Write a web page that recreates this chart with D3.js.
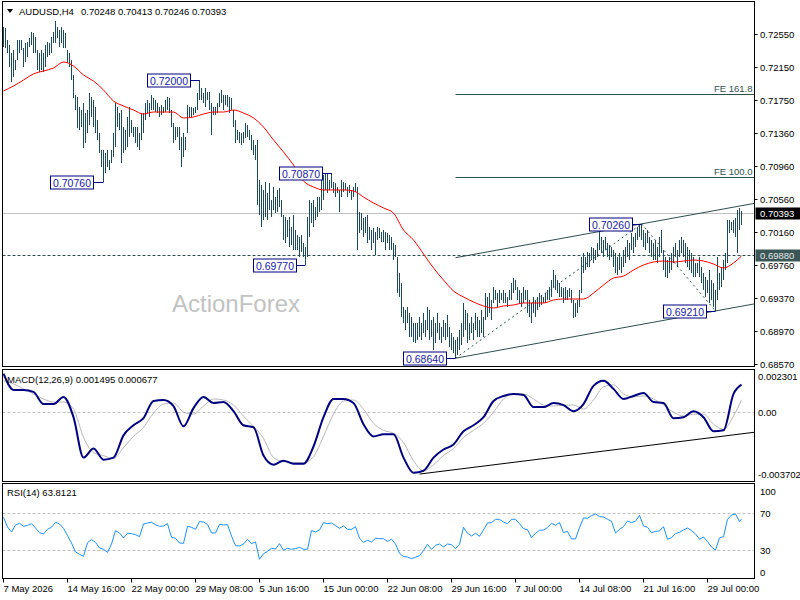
<!DOCTYPE html>
<html><head><meta charset="utf-8">
<script src="https://cdn.jsdelivr.net/npm/d3@7"></script>
<style>
html,body{margin:0;padding:0;background:#fff;}
svg{display:block;}
</style></head><body>
<svg id="c" width="800" height="600"></svg>
<script>
// ---------------- DATA ----------------
const symbol = "AUDUSD,H4";
const lastOHLC = ["0.70248", "0.70413", "0.70246", "0.70393"];
const lastClose = 0.70393;
const supportLevel = 0.69880;

const highs = [
.7263,.7262,.7248,.7242,.7232,.7236,.7224,.7248,.7248,.7248,
.7238,.7244,.7245,.7250,.7257,.7256,.7251,.7236,.7232,.7236,
.7232,.7242,.7245,.7244,.7251,.7257,.7271,.7263,.7260,.7263,
.7260,.7256,.7236,.7232,.7224,.7206,.7181,.7179,.7167,.7163,
.7172,.7160,.7163,.7184,.7179,.7175,.7167,.7151,.7136,.7115,
.7115,.7111,.7115,.7103,.7115,.7136,.7172,.7167,.7160,.7163,
.7143,.7139,.7155,.7167,.7151,.7143,.7143,.7143,.7136,.7160,
.7160,.7172,.7175,.7172,.7181,.7178,.7175,.7172,.7167,.7169,
.7167,.7175,.7179,.7178,.7163,.7148,.7143,.7143,.7143,.7131,
.7136,.7131,.7169,.7167,.7167,.7166,.7167,.7184,.7200,.7190,
.7184,.7190,.7185,.7185,.7172,.7167,.7167,.7172,.7184,.7187,
.7181,.7181,.7181,.7179,.7178,.7163,.7151,.7139,.7137,.7136,
.7137,.7148,.7145,.7139,.7133,.7127,.7121,.7127,.7079,.7073,
.7067,.7077,.7063,.7075,.7055,.7071,.7058,.7067,.7069,.7055,
.7037,.7034,.7031,.7034,.7022,.7037,.7019,.7013,.7010,.7013,
.7003,.6998,.7034,.7055,.7051,.7055,.7046,.7058,.7058,.7085,
.7085,.7086,.7086,.7079,.7087,.7076,.7075,.7071,.7067,.7079,
.7076,.7075,.7071,.7073,.7067,.7071,.7075,.7071,.7040,.7039,
.7033,.7034,.7037,.7022,.7019,.7021,.7016,.7022,.7021,.7016,
.7019,.7016,.7015,.7013,.7010,.7003,.7001,.6986,.6967,.6955,
.6926,.6922,.6926,.6919,.6914,.6906,.6906,.6906,.6914,.6906,
.6919,.6910,.6926,.6922,.6910,.6914,.6906,.6919,.6906,.6902,
.6910,.6906,.6916,.6902,.6894,.6890,.6886,.6890,.6898,.6906,
.6931,.6922,.6919,.6906,.6914,.6906,.6919,.6914,.6910,.6922,
.6914,.6943,.6938,.6943,.6934,.6950,.6946,.6943,.6946,.6943,
.6946,.6943,.6938,.6946,.6955,.6961,.6958,.6950,.6946,.6943,
.6950,.6946,.6946,.6934,.6931,.6938,.6934,.6938,.6943,.6940,
.6938,.6943,.6946,.6950,.6958,.6970,.6964,.6958,.6955,.6950,
.6949,.6950,.6946,.6949,.6946,.6934,.6931,.6934,.6946,.6986,
.6991,.6986,.6992,.6991,.6998,.6997,.6995,.7003,.7019,.7010,
.7007,.7010,.7003,.7001,.6998,.6995,.6991,.6986,.6991,.6986,
.6995,.6998,.7007,.7003,.7015,.7010,.7015,.7022,.7025,.7026,
.7019,.7015,.7019,.7010,.7007,.7003,.7007,.6998,.7010,.7019,
.6995,.6986,.6982,.6986,.6991,.6998,.7003,.6995,.7007,.7010,
.7007,.7003,.6998,.6995,.6991,.6986,.6979,.6979,.6986,.6974,
.6967,.6962,.6958,.6970,.6958,.6955,.6946,.6986,.6967,.6974,
.6982,.6991,.7031,.7031,.7028,.7031,.7033,.7043,.7045,.70413
];
const lows = [
.7239,.7238,.7232,.7215,.7197,.7203,.7212,.7224,.7232,.7236,
.7215,.7221,.7227,.7239,.7242,.7232,.7232,.7212,.7209,.7212,
.7209,.7215,.7227,.7230,.7232,.7244,.7244,.7250,.7239,.7244,
.7238,.7238,.7220,.7215,.7199,.7178,.7163,.7142,.7139,.7143,
.7118,.7124,.7136,.7145,.7155,.7143,.7136,.7127,.7111,.7095,
.7076,.7087,.7095,.7091,.7099,.7107,.7119,.7143,.7139,.7099,
.7111,.7115,.7119,.7131,.7136,.7131,.7124,.7119,.7115,.7127,
.7136,.7151,.7160,.7155,.7163,.7163,.7161,.7160,.7155,.7157,
.7160,.7161,.7163,.7160,.7143,.7124,.7127,.7131,.7115,.7095,
.7107,.7115,.7136,.7155,.7155,.7157,.7160,.7163,.7175,.7175,
.7172,.7167,.7175,.7163,.7133,.7157,.7157,.7160,.7167,.7172,
.7163,.7169,.7167,.7160,.7163,.7143,.7124,.7127,.7124,.7121,
.7124,.7130,.7131,.7127,.7115,.7109,.7103,.7049,.7037,.7022,
.7031,.7034,.7031,.7043,.7034,.7043,.7039,.7040,.7046,.7034,
.7007,.7003,.7010,.6998,.7001,.6995,.6995,.6995,.6986,.6992,
.6986,.6977,.6986,.7010,.7027,.7022,.7031,.7034,.7040,.7043,
.7055,.7067,.7063,.7067,.7069,.7063,.7058,.7063,.7040,.7058,
.7064,.7067,.7058,.7063,.7055,.7058,.7064,.6995,.7015,.7019,
.7010,.7015,.7003,.7007,.6995,.7003,.6988,.7007,.7009,.7004,
.7004,.6995,.7003,.6995,.6995,.6982,.6986,.6943,.6938,.6914,
.6906,.6898,.6906,.6890,.6890,.6884,.6882,.6886,.6890,.6886,
.6894,.6890,.6898,.6886,.6890,.6874,.6882,.6894,.6886,.6882,
.6890,.6886,.6890,.6878,.6874,.6870,.6864,.6868,.6874,.6880,
.6890,.6898,.6882,.6886,.6894,.6886,.6898,.6890,.6890,.6894,
.6890,.6910,.6914,.6919,.6910,.6931,.6934,.6926,.6931,.6934,
.6931,.6931,.6926,.6934,.6934,.6943,.6946,.6934,.6931,.6926,
.6931,.6934,.6919,.6914,.6906,.6919,.6914,.6922,.6926,.6928,
.6931,.6931,.6934,.6934,.6938,.6950,.6946,.6943,.6938,.6938,
.6931,.6934,.6934,.6938,.6931,.6912,.6914,.6919,.6926,.6943,
.6967,.6970,.6974,.6974,.6982,.6979,.6982,.6986,.6995,.6991,
.6986,.6995,.6986,.6982,.6986,.6974,.6967,.6964,.6970,.6967,
.6974,.6979,.6986,.6982,.6995,.6991,.6998,.7007,.7010,.7007,
.6998,.6995,.7003,.6991,.6986,.6982,.6982,.6979,.6986,.6991,
.6970,.6962,.6961,.6967,.6970,.6979,.6986,.6974,.6986,.6991,
.6986,.6979,.6974,.6970,.6967,.6962,.6962,.6967,.6962,.6955,
.6946,.6938,.6943,.6931,.6934,.6926,.6921,.6934,.6946,.6950,
.6958,.6970,.6979,.7015,.7019,.7015,.7010,.6991,.7019,.70246
];

// moving average, one reading every 5 bars (last reading = last bar)
const maStep = 5;
const maValues = [
0.71863,0.71923,0.71995,0.72068,0.72104,0.72140,0.72212,0.72164,0.72056,0.71983,
0.71875,0.71742,0.71682,0.71633,0.71585,0.71609,0.71609,0.71609,0.71537,0.71549,
0.71585,0.71609,0.71609,0.71633,0.71597,0.71537,0.71428,0.71272,0.71127,0.70970,
0.70777,0.70705,0.70669,0.70669,0.70669,0.70657,0.70584,0.70512,0.70452,0.70391,
0.70186,0.70066,0.69897,0.69728,0.69583,0.69451,0.69378,0.69318,0.69270,0.69246,
0.69270,0.69282,0.69306,0.69306,0.69306,0.69342,0.69354,0.69354,0.69354,0.69426,
0.69523,0.69607,0.69631,0.69704,0.69764,0.69800,0.69812,0.69800,0.69812,0.69824,
0.69812,0.69776,0.69728,0.69788,0.69873
];

// MACD(12,26,9), one reading every 5 bars
const macdStep = 5;
const macdValues = [
0.002075,0.001208,0.001208,0.001100,0.000450,0.000450,0.000829,-0.000255,-0.002421,-0.001934,
-0.002530,-0.002421,-0.001230,-0.000688,-0.000309,0.000612,0.000666,0.000341,-0.000742,0.000233,
0.000829,0.000504,0.000558,0.000070,-0.000688,-0.000796,-0.002313,-0.002801,-0.002584,-0.002746,
-0.002746,-0.001826,-0.000255,0.000720,0.000720,0.000504,-0.000634,-0.001284,-0.001176,-0.001176,
-0.002421,-0.003234,-0.003126,-0.002421,-0.001988,-0.001717,-0.001013,-0.000688,-0.000255,0.000612,
0.000883,0.000991,0.000937,0.000287,0.000287,0.000504,0.000395,0.000070,0.000450,0.001425,
0.001696,0.001262,0.000720,0.000883,0.001046,0.000558,0.000504,-0.000309,-0.000255,0.000070,
-0.000255,-0.001013,-0.000959,0.000991,0.001495
];
const signalValues = [
0.001696,0.001533,0.001262,0.000991,0.000720,0.000558,0.000558,0.000179,-0.001338,-0.002151,
-0.002313,-0.002476,-0.001880,-0.001284,-0.000796,-0.000038,0.000450,0.000504,0.000016,-0.000092,
0.000341,0.000720,0.000666,0.000395,-0.000200,-0.000742,-0.001392,-0.002421,-0.002638,-0.002692,
-0.002692,-0.002367,-0.001284,-0.000092,0.000612,0.000666,0.000179,-0.000580,-0.000959,-0.001121,
-0.001609,-0.002584,-0.003126,-0.002801,-0.002313,-0.001934,-0.001338,-0.000959,-0.000580,0.000016,
0.000720,0.000991,0.000991,0.000720,0.000395,0.000341,0.000395,0.000395,0.000179,0.000666,
0.001371,0.001479,0.000991,0.000829,0.000883,0.000720,0.000395,0.000016,-0.000200,-0.000092,
-0.000092,-0.000634,-0.000905,-0.000200,0.000677
];
const macdLast = ["0.001495", "0.000677"];
const macdTrendBars = [208, 356];
const macdTrendValues = [-0.003304, -0.001322];

// RSI(14), one reading every 2 bars
const rsiStep = 2;
const rsiValues = [
65.7,55.2,49.8,57.4,59.2,55.9,57.0,58.8,54.1,49.1,47.7,52.7,54.9,60.3,58.5,53.8,45.9,37.9,28.2,25.7,
23.5,38.3,41.5,38.6,32.5,31.1,27.8,36.8,51.3,48.7,43.3,48.4,48.0,46.9,44.8,58.5,59.5,60.3,57.7,55.9,
56.3,58.8,44.1,43.0,37.9,37.6,55.9,54.9,52.7,61.0,60.6,58.1,48.7,48.7,58.1,57.4,57.7,45.5,35.0,34.7,
36.8,41.9,
37.2,39.0,20.3,26.4,28.9,32.2,31.4,37.2,30.0,32.2,31.1,31.8,33.2,31.1,31.1,51.3,49.8,52.0,59.9,58.8,
59.5,56.7,53.8,56.3,52.7,52.7,55.6,43.0,38.6,40.8,39.0,43.0,42.6,42.6,39.7,41.9,36.8,26.7,23.2,22.8,
21.0,22.4,24.2,29.6,36.5,31.1,35.4,36.8,33.6,36.8,36.1,31.8,36.5,54.9,48.4,45.5,48.4,45.1,52.0,59.5,
59.9,63.5,
63.5,60.6,58.8,63.5,63.5,58.8,53.4,52.3,43.7,48.4,51.6,52.0,54.5,59.2,57.0,59.9,49.1,50.5,42.3,42.3,
54.5,65.0,64.6,67.5,69.3,66.4,66.0,63.5,61.4,48.7,52.7,55.6,61.7,59.9,61.4,67.8,56.3,54.9,49.1,50.5,
50.9,55.6,41.9,43.7,48.0,49.5,52.0,54.1,51.3,47.7,41.9,44.4,39.4,33.6,30.3,43.3,44.8,63.5,68.2,69.3,
61.0,63.8121
];
const rsiLast = "63.8121";

// swing labels
const swingBars   = [50, 98, 151, 164, 226, 319, 356];
const swingValues = [0.70760, 0.72000, 0.69770, 0.70870, 0.68640, 0.70260, 0.69210];

// axes
const priceTicks = [0.72550,0.72150,0.71750,0.71360,0.70960,0.70560,0.70160,0.69760,0.69370,0.68970,0.68570];
const macdMax = 0.002301, macdMin = -0.003702;
const macdTicks = ["0.002301", "0.00", "-0.003702"];
const rsiTicks = [100, 70, 30, 0];
const rsiLevels = [70, 30];
const timeLabelStep = 32;
const timeLabels = ["7 May 2026","14 May 16:00","22 May 00:00","29 May 08:00","5 Jun 16:00","15 Jun 00:00",
  "22 Jun 08:00","29 Jun 16:00","7 Jul 00:00","14 Jul 08:00","21 Jul 16:00","29 Jul 00:00"];
const feRatios = [1.0, 1.618];
const feNames = ["FE 100.0", "FE 161.8"];

// ---------------- DRAW ----------------
const FONT = '"Liberation Sans", Arial, sans-serif';
const svg = d3.select("#c").attr("font-family", FONT);
const L = 2.5, R = 754.5;
const P = {main:[1.5,366.5], macd:[369.5,481.5], rsi:[483.5,578.5]};
const BAR = "#1d4b5b", SLATE = "#2f4f4f", NAVY = "#000080";

const n = highs.length;
const x = d3.scaleLinear().domain([0, n-1]).range([3.5, 3.5 + 2*(n-1)]);
const yMain = d3.scaleLinear().domain([0.68540, 0.72942]).range([P.main[1], P.main[0]]);
const yMacd = d3.scaleLinear().domain([macdMin, macdMax]).range([P.macd[1], P.macd[0]]);
const yRsi = d3.scaleLinear().domain([0, 100]).range([578.05, 485.55]);
const rightBar = x.invert(R);

svg.append("rect").attr("width",800).attr("height",600).attr("fill","#fff");
const defs = svg.append("defs");
Object.entries(P).forEach(([k,[t,b]]) => {
  defs.append("clipPath").attr("id","clip-"+k).append("rect")
    .attr("x",L+0.5).attr("y",t+0.5).attr("width",R-L-1).attr("height",b-t-1);
});

// ---- main panel ----
const gm = svg.append("g").attr("clip-path","url(#clip-main)");
gm.append("text").attr("x",172).attr("y",312).attr("font-size",24)
  .attr("fill","#c2c2c2").text("ActionForex");

const hline = (g, v, attrs) => {
  const l = g.append("line").attr("x1",L).attr("x2",R)
    .attr("y1",Math.round(yMain(v))+0.5).attr("y2",Math.round(yMain(v))+0.5);
  Object.entries(attrs).forEach(([a,b]) => l.attr(a,b));
};
hline(gm, lastClose, {stroke:"#c0c0c0","stroke-width":1});
hline(gm, supportLevel, {stroke:SLATE,"stroke-width":1,"stroke-dasharray":"3,2"});

// swings used for the drawing tools
const A = swingValues[4], B = swingValues[5], C = swingValues[6];
const bA = swingBars[4], bB = swingBars[5], bC = swingBars[6];
feRatios.forEach((r,i) => {
  const v = C + r*(B - A);
  const yy = Math.round(yMain(v)) + 0.5;
  gm.append("line").attr("x1",x(bA)).attr("x2",R).attr("y1",yy).attr("y2",yy)
    .attr("stroke",SLATE).attr("stroke-width",1);
  gm.append("text").attr("x",R-2).attr("y",yy-3).attr("text-anchor","end")
    .attr("font-size",9.5).attr("fill",SLATE).text(feNames[i]);
});
const slope = (C - A)/(bC - bA);
const seg = (g, b1, v1, b2, v2, attrs) => {
  const l = g.append("line").attr("x1",x(b1)).attr("y1",yMain(v1)).attr("x2",x(b2)).attr("y2",yMain(v2));
  Object.entries(attrs).forEach(([a,b]) => l.attr(a,b));
};
seg(gm, bA, A, rightBar, A + slope*(rightBar-bA), {stroke:SLATE,"stroke-width":1});
seg(gm, bA, B - slope*(bB-bA), rightBar, B + slope*(rightBar-bB), {stroke:SLATE,"stroke-width":1});
seg(gm, bA, A, bB, B, {stroke:SLATE,"stroke-width":1,"stroke-dasharray":"2,3"});
seg(gm, bB, B, bC, C, {stroke:SLATE,"stroke-width":1,"stroke-dasharray":"2,3"});

// bars
gm.append("g").selectAll("line").data(highs).join("line")
  .attr("x1",(d,i)=>x(i)).attr("x2",(d,i)=>x(i))
  .attr("y1",d=>yMain(d)).attr("y2",(d,i)=>Math.max(yMain(lows[i]), yMain(d)+1))
  .attr("stroke",BAR).attr("stroke-width",1).attr("shape-rendering","crispEdges");

// moving average
const stepIdx = (step) => (d,i) => Math.min(i*step, n-1);
gm.append("path").datum(maValues)
  .attr("d", d3.line().x((d,i)=>x(stepIdx(maStep)(d,i))).y(d=>yMain(d)).curve(d3.curveMonotoneX))
  .attr("fill","none").attr("stroke","#ff0000").attr("stroke-width",1);

// swing labels
swingBars.forEach((b,i) => {
  const v = swingValues[i];
  const yy = Math.round(yMain(v)) + 0.5;
  const xr = Math.round(x(b)) - 10;
  const w = 43, h = 13;
  gm.append("line").attr("x1",xr).attr("x2",x(b)).attr("y1",yy).attr("y2",yy)
    .attr("stroke",NAVY).attr("stroke-width",1);
  gm.append("rect").attr("x",xr-w+0.5).attr("y",yy-6.5).attr("width",w).attr("height",h)
    .attr("fill","#fff").attr("stroke",NAVY).attr("stroke-width",1);
  gm.append("text").attr("x",xr-w/2+0.5).attr("y",yy+4).attr("text-anchor","middle")
    .attr("font-size",10.5).attr("fill","#1a1aa8").text(d3.format(".5f")(v));
});

// header
svg.append("path").attr("d","M7,9 L13,9 L10,13 Z").attr("fill","#000");
svg.append("text").attr("x",19).attr("y",14.5).attr("font-size",9.5).text(symbol);
svg.append("text").attr("x",81).attr("y",14.5).attr("font-size",9.5).text(lastOHLC.join(" "));

// price axis
priceTicks.forEach(v => {
  const yy = Math.round(yMain(v)) + 0.5;
  svg.append("line").attr("x1",R).attr("x2",R+3).attr("y1",yy).attr("y2",yy).attr("stroke","#000");
  svg.append("text").attr("x",760).attr("y",yy+3.5).attr("font-size",9.5).attr("fill","#000")
    .text(d3.format(".5f")(v));
});
const badge = (v, bg, fg) => {
  const yy = Math.round(yMain(v)) + 0.5;
  svg.append("rect").attr("x",R+1).attr("y",yy-6).attr("width",800-R-1).attr("height",12).attr("fill",bg);
  svg.append("text").attr("x",760).attr("y",yy+3.5).attr("font-size",9.5).attr("fill",fg)
    .text(d3.format(".5f")(v));
};
badge(lastClose, "#000", "#fff");
badge(supportLevel, "#3a5656", "#e6e6e6");

// ---- MACD panel ----
const gd = svg.append("g").attr("clip-path","url(#clip-macd)");
const y0 = Math.round(yMacd(0)) + 0.5;
gd.append("line").attr("x1",L).attr("x2",R).attr("y1",y0).attr("y2",y0)
  .attr("stroke","#c0c0c0").attr("stroke-dasharray","3,2");
gd.append("path").datum(signalValues)
  .attr("d", d3.line().x((d,i)=>x(stepIdx(macdStep)(d,i))).y(d=>yMacd(d)).curve(d3.curveMonotoneX))
  .attr("fill","none").attr("stroke","#b8b8b8").attr("stroke-width",1);
gd.append("path").datum(macdValues)
  .attr("d", d3.line().x((d,i)=>x(stepIdx(macdStep)(d,i))).y(d=>yMacd(d)).curve(d3.curveMonotoneX))
  .attr("fill","none").attr("stroke",NAVY).attr("stroke-width",2);
{
  const s = (macdTrendValues[1]-macdTrendValues[0])/(macdTrendBars[1]-macdTrendBars[0]);
  gd.append("line").attr("x1",x(macdTrendBars[0])).attr("y1",yMacd(macdTrendValues[0]))
    .attr("x2",R).attr("y2",yMacd(macdTrendValues[0] + s*(rightBar-macdTrendBars[0])))
    .attr("stroke","#000").attr("stroke-width",1);
}
svg.append("text").attr("x",7).attr("y",382.5).attr("font-size",9.5)
  .text("MACD(12,26,9) " + macdLast.join(" "));
[[macdMax, 7], [0, 0], [macdMin, -7]].forEach(([v,off],i) => {
  svg.append("text").attr("x",758).attr("y",yMacd(v)+off+3.5).attr("font-size",9.5).text(macdTicks[i]);
});

// ---- RSI panel ----
const gr = svg.append("g").attr("clip-path","url(#clip-rsi)");
rsiLevels.forEach(v => {
  const yy = Math.round(yRsi(v)) + 0.5;
  gr.append("line").attr("x1",L).attr("x2",R).attr("y1",yy).attr("y2",yy)
    .attr("stroke","#c0c0c0").attr("stroke-dasharray","3,2");
});
gr.append("path").datum(rsiValues)
  .attr("d", d3.line().x((d,i)=>x(stepIdx(rsiStep)(d,i))).y(d=>yRsi(d)))
  .attr("fill","none").attr("stroke","#1e90ff").attr("stroke-width",1);
svg.append("text").attr("x",7).attr("y",496).attr("font-size",9.5).text("RSI(14) " + rsiLast);
rsiTicks.forEach(v => {
  const off = v === 100 ? 5.5 : (v === 0 ? -6 : 0);
  svg.append("text").attr("x",760).attr("y",yRsi(v)+off+3.5).attr("font-size",9.5).text(v);
});

// ---- frames ----
Object.values(P).forEach(([t,b]) => {
  svg.append("rect").attr("x",L).attr("y",t).attr("width",R-L).attr("height",b-t)
    .attr("fill","none").attr("stroke","#000").attr("stroke-width",1);
});

// ---- time axis ----
timeLabels.forEach((t,i) => {
  const xx = Math.round(x(i*timeLabelStep)) - 0.5;
  svg.append("line").attr("x1",xx).attr("x2",xx).attr("y1",P.rsi[1]).attr("y2",P.rsi[1]+4).attr("stroke","#000");
  svg.append("text").attr("x",xx).attr("y",591.5).attr("font-size",9.5).text(t);
});
</script>
</body></html>
